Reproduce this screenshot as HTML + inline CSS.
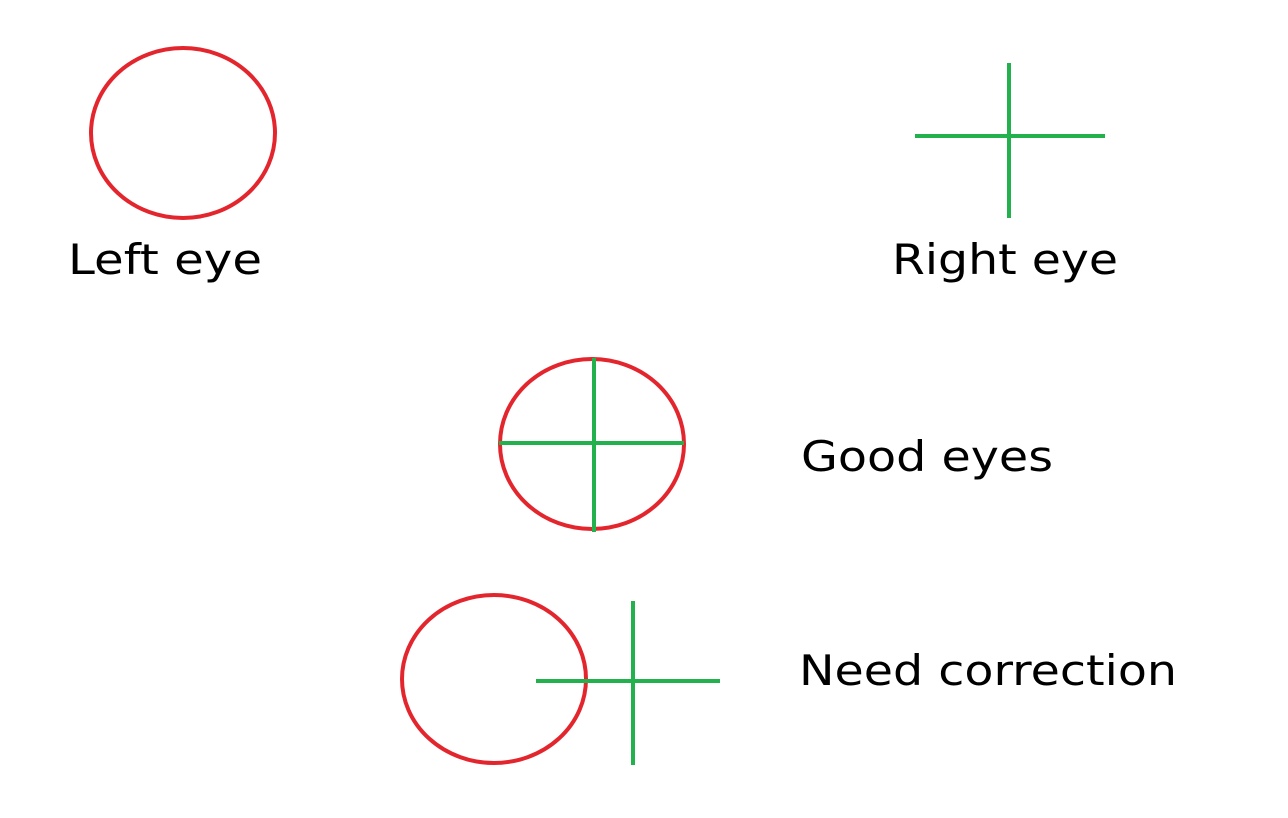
<!DOCTYPE html>
<html><head><meta charset="utf-8"><style>
html,body{margin:0;padding:0;background:#fff;width:1288px;height:818px;overflow:hidden}
svg text{font-family:"DejaVu Sans","Liberation Sans",sans-serif;font-size:42px;fill:#000}
</style></head><body>
<svg width="1288" height="818" viewBox="0 0 1288 818">
<g fill="none" stroke="#e3262d" stroke-width="4">
<ellipse cx="183" cy="133" rx="92" ry="85"/>
<ellipse cx="592" cy="444" rx="92" ry="85"/>
<ellipse cx="494" cy="679" rx="92" ry="84"/>
</g>
<g stroke="#22b14c" stroke-width="4">
<g><line x1="1009" y1="63" x2="1009" y2="218"/><line x1="915" y1="136" x2="1105" y2="136"/></g>
<g><line x1="594" y1="358" x2="594" y2="532"/><line x1="499" y1="443" x2="684" y2="443"/></g>
<g><line x1="633" y1="601" x2="633" y2="765"/><line x1="536" y1="681" x2="720" y2="681"/></g>
</g>
<text x="68" y="274" textLength="194" lengthAdjust="spacingAndGlyphs">Left eye</text>
<text x="892" y="274" textLength="226" lengthAdjust="spacingAndGlyphs">Right eye</text>
<text x="801" y="471" textLength="252" lengthAdjust="spacingAndGlyphs">Good eyes</text>
<text x="799" y="685" textLength="378" lengthAdjust="spacingAndGlyphs">Need correction</text>
</svg>
</body></html>
